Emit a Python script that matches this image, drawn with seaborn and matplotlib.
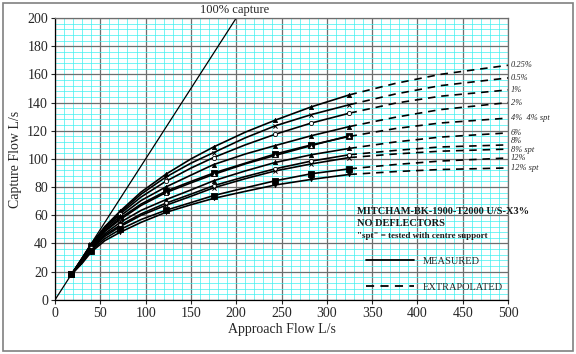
import numpy as np
import pandas as pd
import matplotlib
matplotlib.use('Agg')
import matplotlib.pyplot as plt
import seaborn as sns
from matplotlib.lines import Line2D
from matplotlib.patches import Rectangle
from matplotlib.ticker import MultipleLocator

# 측정 구간 (solid) 과 외삽 구간 (dashed)
approach = [18, 30, 40, 55, 72, 95, 122, 150, 175, 210, 243, 283, 325]
test_flows = [18, 40, 72, 122, 175, 243, 283, 325]
approach_ext = [325, 375, 425, 500]

series_names = ['0.25%', '0.5%', '1%', '2%', '4%', '4% spt', '6%', '8%', '8% spt', '12%', '12% spt']

capture_025 = [18, 29.5, 39.5, 52, 63, 76.5, 89, 100, 108.5, 119, 127.5, 137, 145.5]
capture_05 = [18, 29.5, 39.5, 51.5, 62, 75, 87, 97, 104.5, 115, 123.5, 131.5, 138.5]
capture_1 = [18, 29, 39, 51, 61, 73, 84, 93.5, 101, 110, 117.5, 125.5, 132.5]
capture_2 = [18, 28.5, 38.5, 50, 59.5, 70.5, 80, 88.5, 96, 103.5, 109.5, 116.5, 123]
capture_4 = [18, 28, 38, 49, 58, 68, 77, 84, 90, 97, 103.5, 110, 116]
capture_4spt = [18, 28, 37.5, 48.5, 57, 67, 76, 83, 89, 96.5, 102.5, 109.5, 116.5]
capture_6 = [18, 27.5, 37, 47, 55, 63.5, 71, 78, 84.5, 91.5, 97.5, 103, 107.5]
capture_8 = [18, 27, 36.5, 46, 53, 61, 68.5, 75, 81, 87.5, 93, 98.5, 103]
capture_8spt = [18, 27, 36, 45, 52, 60, 67, 73.5, 79.5, 86, 91.5, 96.5, 101]
capture_12 = [18, 26.5, 35, 43.5, 50, 57, 63.5, 69, 74, 79.5, 84.5, 89.5, 93]
capture_12spt = [18, 26, 34, 42, 48, 55, 62, 67.5, 72, 77, 81.5, 85.5, 89]

ext_labels = ['0.25%', '0.5%', '1%', '2%', '4%  4% spt', '6%', '8%', '8% spt', '12%', '12% spt']
ext_025 = [145.5, 153.5, 160, 166.5]
ext_05 = [138.5, 146, 152, 157.5]
ext_1 = [132.5, 139.5, 144.5, 149]
ext_2 = [123, 129.5, 135, 140]
ext_4 = [116, 121.5, 125.5, 129]
ext_6 = [107.5, 112, 115.5, 118.5]
ext_8 = [103, 106, 108.5, 110]
ext_8spt = [101, 103.5, 105.5, 107]
ext_12 = [93, 96, 98.5, 100.7]
ext_12spt = [89, 91, 92.5, 93.6]

full_capture = [0, 200]

measured = [capture_025, capture_05, capture_1, capture_2, capture_4, capture_4spt,
            capture_6, capture_8, capture_8spt, capture_12, capture_12spt]
extrapolated = [ext_025, ext_05, ext_1, ext_2, ext_4, ext_6, ext_8, ext_8spt, ext_12, ext_12spt]
markers = ['^', 'x', 'o', '^', 's', '^', '^', 'o', 'x', 's', 'v']
filled = [True, True, False, True, True, False, True, False, True, True, True]
msizes = [9, 9, 9, 9, 18, 9, 9, 9, 9, 18, 9]

sns.set_style('white')
plt.rcParams['font.family'] = ['Liberation Serif', 'DejaVu Serif']

fig = plt.figure(figsize=(5.76, 3.54), dpi=100)
ax = fig.add_axes([0.0955, 0.153, 0.7865, 0.796])
fig.patches.append(Rectangle((0.006, 0.008), 0.988, 0.984, transform=fig.transFigure,
                             fill=False, edgecolor='#808080', linewidth=1.2))

ax.set_xlim(0, 500)
ax.set_ylim(0, 200)
ax.xaxis.set_major_locator(MultipleLocator(50))
ax.yaxis.set_major_locator(MultipleLocator(20))
ax.xaxis.set_minor_locator(MultipleLocator(10))
ax.yaxis.set_minor_locator(MultipleLocator(4))
ax.grid(which='minor', color='#40f0f0', linewidth=0.5)
ax.grid(which='major', color='#6e6e6e', linewidth=0.9)
ax.set_axisbelow(True)
for side in ['top', 'right']:
    ax.spines[side].set_color('#6e6e6e')
    ax.spines[side].set_linewidth(0.9)
for side in ['left', 'bottom']:
    ax.spines[side].set_color('black')
    ax.spines[side].set_linewidth(0.9)
ax.tick_params(which='major', direction='out', length=3, width=0.8, labelsize=10,
               left=True, bottom=True, pad=2)

# 100% capture line
sns.lineplot(x=full_capture, y=full_capture, ax=ax, color='black', linewidth=0.9)
ax.text(160, 201.5, '100% capture', fontsize=9, va='bottom', ha='left', clip_on=False)

for vals, m, f, s in zip(measured, markers, filled, msizes):
    sns.lineplot(x=approach, y=vals, ax=ax, color='black', linewidth=1.2)
    df = pd.DataFrame({'x': approach, 'y': vals})
    df = df[df['x'].isin(test_flows)]
    if m == 'x':
        ax.scatter(df['x'], df['y'], marker=m, s=s, color='black', linewidths=0.7, zorder=3)
    else:
        ax.scatter(df['x'], df['y'], marker=m, s=s, zorder=3,
                   facecolor='black' if f else 'white', edgecolor='black', linewidths=0.6)

# 라벨 겹침 방지용 세로 오프셋
label_shift = {'8%': 2.5, '8% spt': -0.5, '12%': -0.2}
dash = (0, (4.5, 3.5))
for vals, lab in zip(extrapolated, ext_labels):
    sns.lineplot(x=approach_ext, y=vals, ax=ax, color='black', linewidth=1.2, linestyle=dash)
    ax.text(503, vals[-1] + label_shift.get(lab, 0), lab, fontsize=6, style='italic',
            va='center', ha='left', clip_on=False)

ax.text(333, 62.5, 'MITCHAM-BK-1900-T2000 U/S-X3%', fontsize=7.5, fontweight='bold',
        va='center', color='#1a1a1a')
ax.text(333, 54, 'NO DEFLECTORS', fontsize=7.5, fontweight='bold', va='center', color='#1a1a1a')
ax.text(333, 45.5, '"spt" = tested with centre support', fontsize=6.5, fontweight='bold',
        va='center', color='#1a1a1a')

handles = [Line2D([], [], color='black', linewidth=1.3),
           Line2D([], [], color='black', linewidth=1.3, linestyle=dash)]
ax.legend(handles, ['MEASURED', 'EXTRAPOLATED'], loc='center left',
          bbox_to_anchor=(0.665, 0.09), frameon=False, handlelength=4.6,
          labelspacing=1.6, fontsize=7.5, handletextpad=0.9)

ax.set_xlabel('Approach Flow L/s', fontsize=10, labelpad=2)
ax.set_ylabel('Capture Flow L/s', fontsize=10, labelpad=4)

fig.savefig('out.png', dpi=100)
